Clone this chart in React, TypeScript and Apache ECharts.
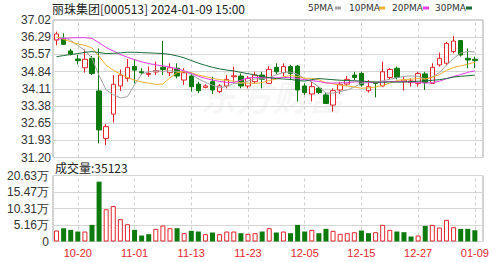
import React, { useEffect, useRef } from "react";
import * as echarts from "echarts";

const titleText = "丽珠集团[000513] 2024-01-09 15:00";
const lastVolume = 35123;

const dates = [
  "2023-10-17", "2023-10-18", "2023-10-19", "2023-10-20", "2023-10-23", "2023-10-24", "2023-10-25", "2023-10-26", "2023-10-27", "2023-10-30", "2023-10-31",
  "2023-11-01", "2023-11-02", "2023-11-03", "2023-11-06", "2023-11-07", "2023-11-08", "2023-11-09", "2023-11-10", "2023-11-13", "2023-11-14", "2023-11-15",
  "2023-11-16", "2023-11-17", "2023-11-20", "2023-11-21", "2023-11-22", "2023-11-23", "2023-11-24", "2023-11-27", "2023-11-28", "2023-11-29", "2023-11-30",
  "2023-12-01", "2023-12-04", "2023-12-05", "2023-12-06", "2023-12-07", "2023-12-08", "2023-12-11", "2023-12-12", "2023-12-13", "2023-12-14", "2023-12-15",
  "2023-12-18", "2023-12-19", "2023-12-20", "2023-12-21", "2023-12-22", "2023-12-25", "2023-12-26", "2023-12-27", "2023-12-28", "2023-12-29",
  "2024-01-02", "2024-01-03", "2024-01-04", "2024-01-05", "2024-01-08", "2024-01-09",
];

const labelDates = ["10-20", "11-01", "11-13", "11-23", "12-05", "12-15", "12-27", "01-09"];

const opens = [
  36.17, 36.22, 35.71, 35.37, 35.0, 35.4, 34.02, 32.01, 33.04, 34.23,
  34.55, 35.05, 34.83, 34.72, 34.82, 35.02, 34.79, 34.98, 34.48, 34.65,
  34.31, 34.17, 34.41, 33.99, 34.23, 34.62, 34.65, 34.23, 34.41, 34.69,
  34.34, 35.02, 34.79, 35.05, 35.07, 34.23, 33.89, 34.13, 33.85, 33.42,
  34.06, 34.31, 34.69, 34.76, 34.03, 34.38, 34.23, 34.59, 34.98, 34.41,
  34.38, 34.34, 34.74, 34.34, 35.12, 35.19, 35.68, 36.15, 35.4, 35.36,
];
const closes = [
  36.43, 35.99, 35.58, 35.3, 35.36, 34.76, 32.37, 32.51, 34.3, 34.69,
  35.02, 34.9, 34.79, 34.76, 34.88, 34.93, 35.0, 34.65, 34.79, 34.2,
  34.03, 34.23, 34.06, 34.23, 34.51, 34.66, 34.23, 34.55, 34.69, 34.51,
  34.93, 34.83, 35.05, 34.76, 34.06, 33.95, 34.2, 33.95, 33.49, 34.03,
  34.3, 34.51, 34.59, 34.27, 34.2, 34.34, 34.83, 34.93, 34.59, 34.48,
  34.44, 34.76, 34.37, 35.02, 35.4, 36.03, 36.13, 35.54, 35.33, 35.3,
];
const lows = [
  35.95, 35.96, 35.52, 35.14, 34.79, 34.69, 31.8, 31.73, 32.68, 34.02,
  34.41, 34.34, 34.69, 34.62, 34.69, 34.69, 34.65, 34.55, 34.27, 33.99,
  33.92, 34.13, 33.89, 33.92, 34.13, 34.41, 34.13, 34.13, 34.31, 34.13,
  34.31, 34.74, 34.65, 34.48, 33.57, 33.85, 33.57, 33.89, 33.47, 33.14,
  33.9, 34.23, 34.48, 34.2, 33.95, 33.75, 34.2, 34.51, 34.51, 34.03,
  34.2, 34.2, 34.06, 34.31, 35.05, 35.12, 35.61, 35.47, 34.98, 34.98,
];
const highs = [
  36.53, 36.46, 35.8, 35.54, 35.78, 35.5, 35.82, 32.62, 34.69, 34.93,
  35.37, 35.35, 34.98, 35.05, 35.26, 36.13, 35.19, 35.19, 34.98, 34.76,
  34.41, 34.3, 34.62, 34.3, 34.69, 35.05, 34.76, 34.65, 34.83, 34.83,
  35.07, 35.19, 35.19, 35.12, 35.12, 34.34, 34.41, 34.2, 33.95, 34.13,
  34.41, 34.65, 34.83, 34.83, 34.48, 34.41, 35.26, 34.98, 35.05, 34.62,
  34.55, 34.83, 34.83, 35.19, 35.64, 36.1, 36.34, 36.17, 35.82, 35.47,
];
const volumes = [
  34300, 41570, 36380, 31180, 31180, 51970, 187070, 100810, 111200, 69630,
  54040, 36380, 18710, 22860, 39490, 49890, 41570, 41570, 25980, 33260,
  31180, 22860, 28060, 22860, 31180, 31180, 25980, 23900, 25980, 31180,
  41570, 28060, 31180, 25980, 51970, 31180, 36380, 25980, 39490, 33260,
  23900, 25980, 29100, 34300, 25980, 29100, 51970, 36380, 31180, 29100,
  15590, 18710, 48850, 51970, 43650, 67550, 44690, 39490, 39490, lastVolume,
];
// closes before the first visible day (estimated so the moving averages start where the picture shows them)
const priorCloses = [
  34.5, 34.3, 34.1, 33.9, 33.7, 33.6, 33.8, 34.0, 34.1, 34.2,
  35.0, 35.1, 35.2, 35.3, 35.4, 36.0, 36.6, 37.2, 37.6, 37.4,
  37.0, 36.6, 36.2, 36.0, 35.8, 36.0, 36.2, 36.4, 36.4,
];

const priceTicks = ["31.20", "31.93", "32.65", "33.38", "34.11", "34.84", "35.57", "36.29", "37.02"];
const volTicks = ["0", "5.16万", "10.31万", "15.47万", "20.63万"];
const priceMin = 31.2;
const priceMax = 37.02;
const volMax = 206300;

const maPeriods = [5, 10, 20, 30];
const maNames = ["5PMA", "10PMA", "20PMA", "30PMA"];
const maColors = ["#a3a3a3", "#f1b132", "#e63de6", "#1d6b3c"];

const RED = "#e3262b";
const GREEN = "#0d7a0d";

function movingAverage(n: number): number[] {
  const all = [...priorCloses, ...closes];
  return closes.map((_, i) => {
    const end = priorCloses.length + i;
    let s = 0;
    for (let k = end - n + 1; k <= end; k++) s += all[k];
    return +(s / n).toFixed(3);
  });
}

export default function App() {
  const ref = useRef<HTMLDivElement>(null);
  useEffect(() => {
    if (!ref.current) return;
    const chart = echarts.init(ref.current, undefined, { renderer: "svg" });

    const L = 53;
    const FRAME_W = 430;
    const PLOT_W = 425.4;
    const PT = 20, PH = 137.6;
    const VT = 175.5, VH = 66;
    const labelFont = "Liberation Sans";

    const dashed = {
      symbol: ["none", "none"],
      silent: true,
      z: 1,
      label: { show: false },
      lineStyle: { color: "#cfcfcf", type: [3, 3], width: 1 },
      data: dates.filter((d) => labelDates.includes(d.slice(5))).map((d) => ({ xAxis: d })),
    };

    const candleData = opens.map((o, i) => [o, closes[i], lows[i], highs[i]]);
    const volData = volumes.map((v, i) => {
      const prev = i === 0 ? priorCloses[priorCloses.length - 1] : closes[i - 1];
      const up = closes[i] >= prev;
      return {
        value: v,
        itemStyle: up
          ? { color: "#ffffff", borderColor: RED, borderWidth: 1 }
          : { color: GREEN, borderColor: GREEN, borderWidth: 0 },
      };
    });

    const legendX = [308, 349, 392, 435];
    const swatchX = [335, 379, 423, 466];
    const legendEls: any[] = [];
    maNames.forEach((n, k) => {
      legendEls.push({
        type: "text",
        x: legendX[k],
        y: 8,
        style: { text: n, fontSize: 9, fontFamily: "DejaVu Sans", fill: "#333", verticalAlign: "middle" },
      });
      legendEls.push({
        type: "rect",
        shape: { x: swatchX[k], y: 6.5, width: 6, height: 3 },
        style: { fill: maColors[k] },
      });
    });

    const option: any = {
      animation: false,
      backgroundColor: "#ffffff",
      grid: [
        { left: L, top: PT, width: FRAME_W, height: PH, show: true, borderColor: "#a8a8a8", borderWidth: 1 },
        { left: L, top: PT, width: PLOT_W, height: PH },
        { left: L, top: VT, width: FRAME_W, height: VH, show: true, borderColor: "#a8a8a8", borderWidth: 1 },
        { left: L, top: VT, width: PLOT_W, height: VH },
      ],
      xAxis: [
        { gridIndex: 0, type: "value", min: 0, max: 1, show: false },
        {
          gridIndex: 1, type: "category", data: dates, boundaryGap: true,
          axisLine: { show: false }, axisTick: { show: false }, axisLabel: { show: false }, splitLine: { show: false },
        },
        { gridIndex: 2, type: "value", min: 0, max: 1, show: false },
        {
          gridIndex: 3, type: "category", data: dates, boundaryGap: true,
          axisLine: { show: false }, axisTick: { show: false }, splitLine: { show: false },
          axisLabel: {
            interval: (i: number) => labelDates.includes(dates[i].slice(5)),
            formatter: (v: string) => v.slice(5),
            color: RED, fontSize: 11, fontFamily: labelFont, margin: 6,
          },
        },
      ],
      yAxis: [
        {
          gridIndex: 0, type: "value", min: 0, max: priceTicks.length - 1, interval: 1,
          axisLine: { show: false }, axisTick: { show: false },
          axisLabel: { formatter: (v: number) => priceTicks[Math.round(v)], color: "#333", fontSize: 12, fontFamily: labelFont, margin: 2 },
          splitLine: { lineStyle: { color: "#d6d6d6", width: 1 } },
        },
        { gridIndex: 1, type: "value", min: priceMin, max: priceMax, show: false, splitLine: { show: false } },
        {
          gridIndex: 2, type: "value", min: 0, max: volTicks.length - 1, interval: 1,
          axisLine: { show: false }, axisTick: { show: false },
          axisLabel: { formatter: (v: number) => volTicks[Math.round(v)], color: "#333", fontSize: 12, fontFamily: labelFont, margin: 4 },
          splitLine: { lineStyle: { color: "#d6d6d6", width: 1 } },
        },
        { gridIndex: 3, type: "value", min: 0, max: volMax, show: false, splitLine: { show: false } },
      ],
      series: [
        {
          type: "candlestick", xAxisIndex: 1, yAxisIndex: 1, data: candleData, barWidth: 5,
          itemStyle: { color: "#ffffff", color0: GREEN, borderColor: RED, borderColor0: GREEN, borderWidth: 1 },
          markLine: dashed,
        },
        ...maPeriods.map((n, k) => ({
          type: "line", name: maNames[k], xAxisIndex: 1, yAxisIndex: 1, data: movingAverage(n),
          symbol: "none", z: 3, lineStyle: { color: maColors[k], width: 1 },
        })),
        {
          type: "bar", xAxisIndex: 3, yAxisIndex: 3, data: volData, barWidth: 5,
          markLine: dashed,
        },
      ],
      graphic: [
        {
          type: "text", x: 272, y: 95, z: -1,
          style: {
            text: "东方财富", fontSize: 36, fontWeight: "bold", fontStyle: "italic",
            fontFamily: "Noto Sans CJK SC", fill: "rgba(0,0,0,0.05)", align: "center", verticalAlign: "middle",
          },
        },
        {
          type: "text", x: 52, y: 8,
          style: { text: titleText, fontSize: 12, fontFamily: "Noto Sans CJK SC", fill: "#222", verticalAlign: "middle" },
        },
        ...legendEls,
        {
          type: "text", x: 55, y: 167,
          style: { text: "成交量:" + lastVolume, fontSize: 12, fontFamily: "Noto Sans CJK SC", fill: "#222", verticalAlign: "middle" },
        },
      ],
    };
    chart.setOption(option);
    return () => chart.dispose();
  }, []);
  return <div ref={ref} style={{ position: "fixed", left: 0, top: 0, width: 503, height: 262 }} />;
}
